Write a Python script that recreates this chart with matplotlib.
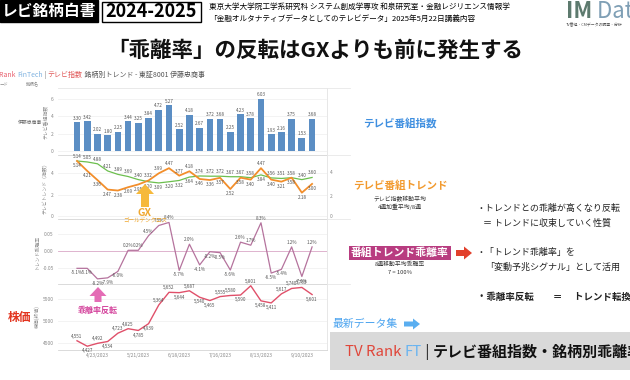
import matplotlib
matplotlib.use('Agg')
import matplotlib.pyplot as plt
from matplotlib.patches import FancyArrow, Rectangle

plt.rcParams['font.family'] = ['Noto Sans CJK JP', 'DejaVu Sans']

# ---------------- data (weekly) ----------------
weeks = ['4/9/2023', '4/16/2023', '4/23/2023', '4/30/2023', '5/7/2023', '5/14/2023',
         '5/21/2023', '5/28/2023', '6/4/2023', '6/11/2023', '6/18/2023', '6/25/2023',
         '7/2/2023', '7/9/2023', '7/16/2023', '7/23/2023', '7/30/2023', '8/6/2023',
         '8/13/2023', '8/20/2023', '8/27/2023', '9/3/2023', '9/10/2023', '9/17/2023']
tick_weeks = ['4/23/2023', '5/21/2023', '6/18/2023', '7/16/2023', '8/13/2023', '9/10/2023']

tv_index = [3.30, 3.42, 2.02, 1.80, 2.25, 3.44, 3.25, 3.84, 4.72, 5.27, 2.52, 4.18,
            2.67, 3.72, 3.68, 2.25, 4.23, 3.78, 6.03, 1.93, 2.16, 3.75, 1.53, 3.68]
trend_4w = [5.14, 4.21, 3.36, 2.47, 2.38, 2.69, 2.95, 3.32, 3.99, 4.47, 3.77, 4.18,
            3.46, 3.36, 3.57, 2.52, 3.58, 3.40, 4.47, 3.40, 3.21, 3.58, 2.18, 3.00]
trend_8w = [5.14, 5.05, 4.88, 4.21, 3.89, 3.69, 3.40, 3.20, 3.09, 3.20, 3.32, 3.64,
            3.74, 3.72, 3.72, 3.67, 3.67, 3.58, 3.84, 3.56, 3.51, 3.58, 3.40, 3.60]
deviation = [-5.1, -5.1, -8.2, -7.9, -6.0, 0.2, 0.2, 4.5, 7.5, 8.4, -5.7, 2.0,
             -4.1, -0.2, -0.5, -5.6, 2.6, 1.7, 8.3, -6.5, -5.4, 1.2, -7.5, 1.2]
price = [4551, 4427, 4492, 4534, 4723, 4825, 4785, 4939, 5364, 5652, 5644, 5687,
         5540, 5465, 5555, 5580, 5590, 5801, 5458, 5411, 5617, 5740, 5763, 5601]

W, H = 630, 380
BAR, ORANGE, GREEN, MAUVE, RED = '#5b8ec4', '#f28e2b', '#6cbf4e', '#b5739d', '#e0506a'
GRID, SEP, TICK = '#eeeeee', '#d5d5d5', '#888888'

fig = plt.figure(figsize=(W / 100, H / 100), dpi=100)
fig.patch.set_facecolor('white')


def px_axes(x0, y0, x1, y1):
    return fig.add_axes([x0 / W, 1 - y1 / H, (x1 - x0) / W, (y1 - y0) / H])


x = list(range(len(weeks)))
XL = (-1.86, 24.46)

ax1 = px_axes(58, 88, 327, 155)
ax2 = px_axes(58, 155, 327, 219)
ax3 = px_axes(58, 219, 327, 284)
ax4 = px_axes(58, 284, 327, 350)

for ax in (ax1, ax2, ax3, ax4):
    ax.set_xlim(*XL)
    ax.set_facecolor('none')
    for s in ('top', 'left'):
        ax.spines[s].set_visible(False)
    ax.spines['bottom'].set_color(SEP)
    ax.spines['bottom'].set_linewidth(0.6)
    ax.spines['right'].set_color('#e3e3e3')
    ax.spines['right'].set_linewidth(0.6)
    ax.tick_params(axis='y', length=0, labelsize=3.5, labelcolor=TICK, pad=3)
    ax.tick_params(axis='x', length=0)
    ax.grid(axis='y', color=GRID, lw=0.5)
    ax.set_axisbelow(True)
    ax.set_xticks([])

lab = dict(fontsize=3.3, color='#555555', ha='center', textcoords='offset points')

# bars
ax1.bar(x, tv_index, width=0.66, color=BAR)
ax1.set_ylim(-0.46, 7.27)
ax1.set_yticks([0, 2, 4, 6])
ax1.spines['top'].set_visible(True)
ax1.spines['top'].set_color('#e5e5e5')
ax1.spines['top'].set_linewidth(0.6)
for i, v in enumerate(tv_index):
    ax1.annotate(f'{v:.2f}', (i, v), xytext=(0, 1.2), va='bottom', **lab)
ax1.set_ylabel('テレビ番組指数', fontsize=3.5, color=TICK, labelpad=2)

# trend lines
ax2.plot(x, trend_8w, color=GREEN, lw=0.9)
ax2.plot(x, trend_4w, color=ORANGE, lw=1.3)
ax2.set_ylim(-0.28, 5.7)
ax2.set_yticks([0, 2, 4])
for i, (o, g) in enumerate(zip(trend_4w, trend_8w)):
    up = o >= g
    ax2.annotate(f'{o:.2f}', (i, o), xytext=(0, 1.5 if up else -1.5),
                 va='bottom' if up else 'top', **lab)
    ax2.annotate(f'{g:.2f}', (i, g), xytext=(0, -1.5 if up else 1.5),
                 va='top' if up else 'bottom', **lab)
ax2.set_ylabel('テレビトレンド（指数）', fontsize=3.5, color=TICK, labelpad=2)

# deviation
ax3.axhline(0, color='#dcaac8', lw=0.6)
ax3.plot(x, deviation, color=MAUVE, lw=0.9)
ax3.set_ylim(-9.71, 9.41)
ax3.set_yticks([-5, 0, 5])
ax3.set_yticklabels(['-0.05', '0.00', '0.05'])
for i, v in enumerate(deviation):
    up = v >= 0
    ax3.annotate(f'{v:.1f}%', (i, v), xytext=(0, 1.5 if up else -1.5),
                 va='bottom' if up else 'top', **lab)
ax3.set_ylabel('トレンド乖離率', fontsize=3.5, color=TICK, labelpad=2)

# price
ax4.plot(x, price, color=RED, lw=1.0)
ax4.set_ylim(4341, 5841)
ax4.set_yticks([4500, 5000, 5500])
for i, v in enumerate(price):
    nb = [price[j] for j in (i - 1, i + 1) if 0 <= j < len(price)]
    up = v >= sum(nb) / len(nb)
    ax4.annotate(f'{v:,}', (i, v), xytext=(0, 1.5 if up else -1.5),
                 va='bottom' if up else 'top', **lab)
ax4.set_xticks([weeks.index(w) for w in tick_weeks])
ax4.set_xticklabels(tick_weeks)
ax4.tick_params(axis='x', labelsize=3.5, labelcolor=TICK, pad=2)
ax4.set_ylabel('株価(終値)', fontsize=3.5, color=TICK, labelpad=2)

# ---------------- slide decorations (pixel overlay) ----------------
ov = fig.add_axes([0, 0, 1, 1])
ov.set_xlim(0, W)
ov.set_ylim(H, 0)
ov.axis('off')
ov.patch.set_visible(False)
rend = fig.canvas.get_renderer()


def rich(x0, y0, parts, size):
    for s, c, w in parts:
        t = ov.text(x0, y0, s, color=c, fontsize=size, fontweight=w, ha='left', va='center')
        x0 += t.get_window_extent(renderer=rend).width


# header
ov.add_patch(Rectangle((0, 0), 98, 22, color='black'))
ov.text(2, 11, 'レビ銘柄白書', color='white', fontsize=11.3, fontweight='bold', va='center')
ov.add_patch(Rectangle((102, 1.5), 99, 20, fill=False, ec='black', lw=1))
ov.text(151.5, 11.5, '2024-2025', fontsize=13, fontweight='bold', ha='center', va='center')
ov.text(209, 7, '東京大学大学院工学系研究科 システム創成学専攻 和泉研究室・金融レジリエンス情報学',
        fontsize=5.5, va='center')
ov.text(209, 19, '「金融オルタナティブデータとしてのテレビデータ」2025年5月22日講義内容',
        fontsize=5.5, va='center')
rich(566, 11, [('IM', '#5d7a6e', 'bold'), (' Data', '#7f9fb5', 'normal')], 16)
ov.text(566, 25, 'TV番組・CMデータの調査・分析', fontsize=2.8, color='#555', va='center')

ov.text(315, 50, '「乖離率」の反転はGXよりも前に発生する', fontsize=15.5,
        fontweight='bold', ha='center', va='center', color='#111')

rich(-1, 75, [('Rank ', '#e8606e', 'normal'), ('FinTech', '#7fb2e0', 'normal'),
              (' | ', '#888888', 'normal'), ('テレビ指数', '#e05555', 'normal'),
              (' 銘柄別トレンド - 東証8001 伊藤忠商事', '#555555', 'normal')], 5.0)
ov.text(0, 84, 'ード', fontsize=3.2, color=TICK, va='center')
ov.text(26, 84, '銘柄名', fontsize=3.2, color=TICK, va='center')
ov.text(30, 122, '伊藤忠商事', fontsize=3.5, color='#666', ha='center', va='center')

# truncated neighbouring column
for yy in (88, 155, 219, 284):
    ov.plot([327, 350], [yy, yy], color='#e8e8e8', lw=0.6)
for yy, t in ((173, '4'), (196, '2'), (216, '0')):
    ov.text(331, yy, t, fontsize=3.5, color=TICK, ha='center', va='center')

# GX marker
ov.add_patch(FancyArrow(145, 207, 0, -23, width=8, head_width=18, head_length=10,
                        length_includes_head=True, color='#f6b93b', lw=0))
ov.text(145, 213, 'GX', fontsize=7.5, fontweight='bold', color='#f0a830', ha='center', va='center')
ov.text(145, 221, 'ゴールデンクロス', fontsize=4, color='#f0a830', ha='center', va='center')

# deviation reversal marker
ov.add_patch(FancyArrow(98, 302, 0, -15, width=7, head_width=17, head_length=9,
                        length_includes_head=True, color='#e46cb5', lw=0))
ov.text(98, 310, '乖離率反転', fontsize=5.8, fontweight='bold', color='#d4439c',
        ha='center', va='center')
ov.text(20, 317, '株価', fontsize=8.5, fontweight='bold', color='#e2331e', ha='center', va='center')

# right-hand legend texts
ov.text(400, 123, 'テレビ番組指数', fontsize=7.6, fontweight='bold', color='#3f8fe0',
        ha='center', va='center')
ov.text(400, 186, 'テレビ番組トレンド', fontsize=7.6, fontweight='bold', color='#f29a2e',
        ha='center', va='center')
ov.text(400, 198, 'テレビ指数移動平均', fontsize=4.2, color='#333', ha='center', va='center')
ov.text(400, 207, '4週加重平均/8週', fontsize=4.2, color='#333', ha='center', va='center')
ov.text(400, 253, '番組トレンド乖離率', fontsize=7.8, fontweight='bold', color='white',
        ha='center', va='center',
        bbox=dict(facecolor='#b83c80', edgecolor='none', boxstyle='square,pad=0.15'))
ov.text(400, 264, '8週移動平均乖離率', fontsize=4.2, color='#333', ha='center', va='center')
ov.text(400, 273, '7 = 100%', fontsize=4.2, color='#333', ha='center', va='center')
ov.add_patch(FancyArrow(456, 253, 16, 0, width=6, head_width=13, head_length=8,
                        length_includes_head=True, color='#e2402c', lw=0))

ov.text(477, 208, '・トレンドとの乖離が高くなり反転', fontsize=6.5, color='#222', va='center')
ov.text(483, 223, '＝ トレンドに収束していく性質', fontsize=6.5, color='#222', va='center')
ov.text(477, 252, '・「トレンド乖離率」を', fontsize=6.5, color='#222', va='center')
ov.text(485, 267, '「変動予兆シグナル」として活用', fontsize=6.5, color='#222', va='center')
ov.text(477, 297, '・乖離率反転　　＝　 トレンド転換', fontsize=6.8, fontweight='bold',
        color='#222', va='center')

ov.text(332, 324, '最新データ集', fontsize=7.8, color='#4aa3ef', va='center')
ov.add_patch(FancyArrow(404, 324, 16, 0, width=5, head_width=11, head_length=7,
                        length_includes_head=True, color='#5aaef0', lw=0))
ov.add_patch(Rectangle((330, 332), 300, 38, color='#d9d9d9', lw=0))
rich(345, 352, [('TV Rank ', '#e0463a', 'normal'), ('FT', '#6ab4f0', 'normal'),
                (' | ', '#222222', 'normal'), ('テレビ番組指数・銘柄別乖離率', '#111111', 'bold')], 10.8)

fig.savefig('out.png', dpi=100)
